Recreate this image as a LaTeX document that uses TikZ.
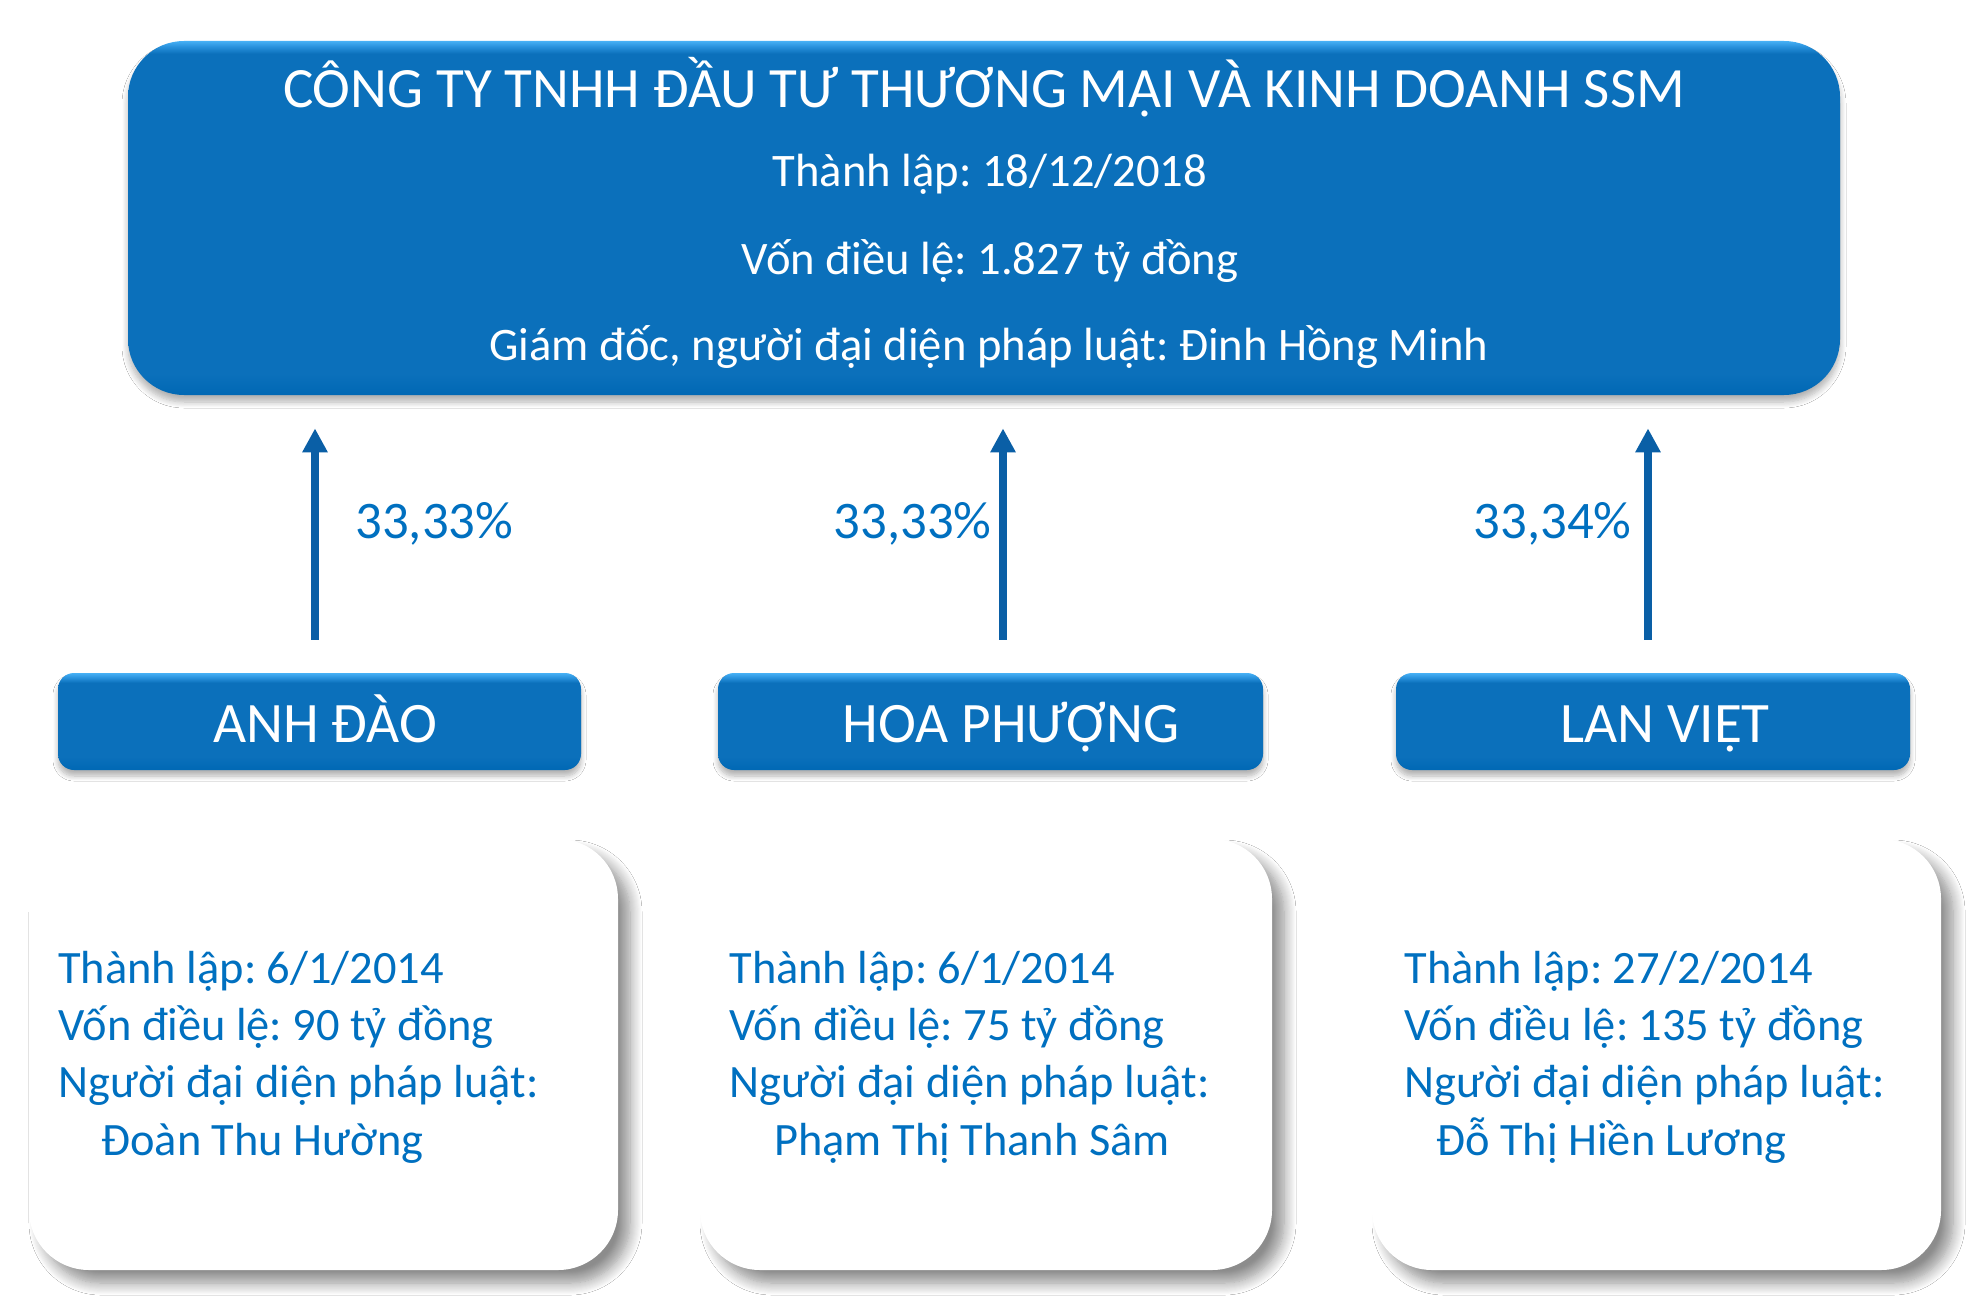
\documentclass[tikz,border=0pt]{standalone}
\usepackage{fontspec}
\setmainfont{Carlito}
\usetikzlibrary{arrows.meta,shadows.blur,calc}
\frenchspacing

\definecolor{boxblue}{RGB}{11,112,187}
\definecolor{boxlight}{RGB}{70,176,245}
\definecolor{boxmid}{RGB}{40,145,220}
\definecolor{boxdark}{RGB}{0,104,180}
\definecolor{txtblue}{RGB}{0,112,192}
\definecolor{arrblue}{RGB}{10,95,166}

\pgfdeclareverticalshading{bigboxshade}{100bp}{color(0bp)=(boxdark); color(25bp)=(boxdark); color(28bp)=(boxblue); color(73.2bp)=(boxblue); color(74.2bp)=(boxmid); color(75bp)=(boxlight); color(100bp)=(boxlight)}
\pgfdeclareverticalshading{midboxshade}{100bp}{color(0bp)=(boxdark); color(25bp)=(boxdark); color(32bp)=(boxblue); color(70bp)=(boxblue); color(72.5bp)=(boxmid); color(75bp)=(boxlight); color(100bp)=(boxlight)}

\tikzset{
  topbox/.style={shading=bigboxshade, draw=none, rounded corners=28pt, inner sep=0pt,
    minimum width=856pt, minimum height=177pt,
    blur shadow={shadow xshift=0pt, shadow yshift=-3.5pt, shadow blur radius=3pt, shadow blur steps=8, shadow opacity=30}},
  midbox/.style={shading=midboxshade, draw=none, rounded corners=8pt, inner sep=0pt,
    minimum height=48.5pt,
    blur shadow={shadow xshift=0pt, shadow yshift=-3pt, shadow blur radius=2.5pt, shadow blur steps=8, shadow opacity=30}},
  infobox/.style={fill=white, draw=none, rounded corners=30pt, inner sep=0pt,
    minimum height=215.5pt,
    blur shadow={shadow xshift=6pt, shadow yshift=-6.5pt, shadow blur radius=6pt, shadow blur steps=12, shadow opacity=45}},
  wtitle/.style={text=white, inner sep=0pt, anchor=base, font=\fontsize{28.5}{34}\selectfont},
  wsub/.style={text=white, inner sep=0pt, anchor=base, font=\fontsize{23.3}{28}\selectfont},
  wmid/.style={text=white, inner sep=0pt, anchor=base, font=\fontsize{28.6}{34}\selectfont},
  pct/.style={text=txtblue, inner sep=0pt, font=\fontsize{26.4}{32}\selectfont},
  info/.style={text=txtblue, inner sep=0pt, anchor=base west, font=\fontsize{23.2}{28}\selectfont},
  arr/.style={draw=arrblue, line width=4pt, -{Triangle[width=12pt,length=12pt]}},
}

\begin{document}
\begin{tikzpicture}[x=0.5pt,y=-0.5pt]
\useasboundingbox[fill=white] (0,0) rectangle (1984,1300);

% top company box
\node[topbox] (top) at (984,218) {};
\node[wtitle] (title) at (984,108) {CÔNG TY TNHH ĐẦU TƯ THƯƠNG MẠI VÀ KINH DOANH SSM};
\node[wsub] (tl1) at (990,187) {Thành lập: 18/12/2018};
\node[wsub] (tl2) at (990,274) {Vốn điều lệ: 1.827 tỷ đồng};
\node[wsub] (tl3) at (989,360) {Giám đốc, người đại diện pháp luật: Đinh Hồng Minh};

% shareholder boxes
\node[midbox, minimum width=261.5pt] (anh) at (319.5,721.5) {};
\node[midbox, minimum width=272.5pt] (hoa) at (990.5,721.5) {};
\node[midbox, minimum width=257pt] (lan) at (1653,721.5) {};
\node[wmid] (anht) at (325,742) {ANH ĐÀO};
\node[wmid] (hoat) at (1011,742) {HOA PHƯỢNG};
\node[wmid] (lant) at (1665,742) {LAN VIỆT};

% arrows
\draw[arr] ($(anh.north)+(-4.5,-33)$) -- ($(anh.north |- top.south)+(-4.5,33)$);
\draw[arr] ($(hoa.north)+(12.5,-33)$) -- ($(hoa.north |- top.south)+(12.5,33)$);
\draw[arr] ($(lan.north)+(-5,-33)$) -- ($(lan.north |- top.south)+(-5,33)$);

\node[pct, anchor=base west] (p1) at (355,538) {33,33\%};
\node[pct, anchor=base east] (p2) at (992,538) {33,33\%};
\node[pct, anchor=base east] (p3) at (1632,538) {33,34\%};

% info boxes
\node[infobox, minimum width=294.5pt] (b1) at (323.5,1054.5) {};
\node[infobox, minimum width=286pt] (b2) at (986,1054.5) {};
\node[infobox, minimum width=284.5pt] (b3) at (1656.5,1054.5) {};

\node[info] (b1a) at (58,983) {Thành lập: 6/1/2014};
\node[info] (b1b) at (58,1040) {Vốn điều lệ: 90 tỷ đồng};
\node[info] (b1c) at (58,1097) {Người đại diện pháp luật:};
\node[info] (b1d) at (101,1155) {Đoàn Thu Hường};

\node[info] (b2a) at (729,983) {Thành lập: 6/1/2014};
\node[info] (b2b) at (729,1040) {Vốn điều lệ: 75 tỷ đồng};
\node[info] (b2c) at (729,1097) {Người đại diện pháp luật:};
\node[info] (b2d) at (774,1155) {Phạm Thị Thanh Sâm};

\node[info] (b3a) at (1404,983) {Thành lập: 27/2/2014};
\node[info] (b3b) at (1404,1040) {Vốn điều lệ: 135 tỷ đồng};
\node[info] (b3c) at (1404,1097) {Người đại diện pháp luật:};
\node[info] (b3d) at (1436,1155) {Đỗ Thị Hiền Lương};
\end{tikzpicture}
\end{document}
